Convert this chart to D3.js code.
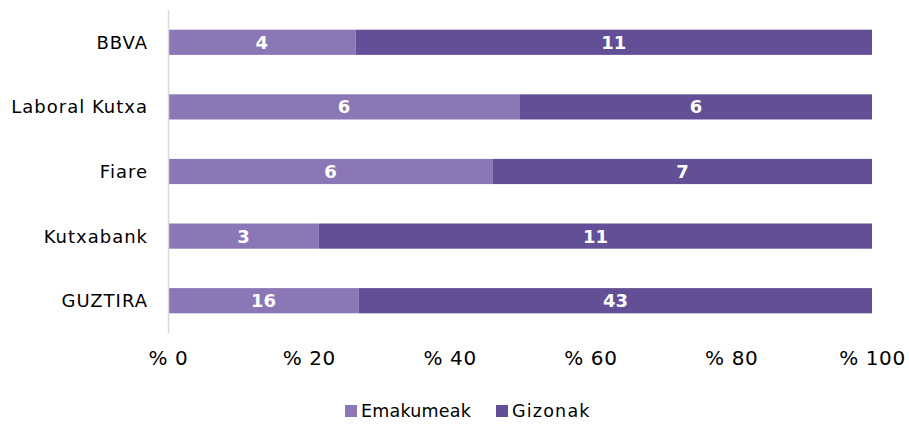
<!DOCTYPE html>
<html>
<head>
<meta charset="utf-8">
<script src="https://cdn.jsdelivr.net/npm/d3@7"></script>
<style>
  body { margin: 0; background: #fff; }
  svg { font-family: "DejaVu Sans", sans-serif; }
</style>
</head>
<body>
<div id="chart"></div>
<script>
// chart data
const categories = ['BBVA', 'Laboral Kutxa', 'Fiare', 'Kutxabank', 'GUZTIRA']
const seriesNames = ['Emakumeak', 'Gizonak']
const emakumeak = [4, 6, 6, 3, 16]
const gizonak = [11, 6, 7, 11, 43]
const xTicks = [0, 20, 40, 60, 80, 100]

// outer svg dimensions
const width = 909
const height = 426
const padding = { top: 10, right: 37, bottom: 93, left: 168 }
const plotW = width - padding.left - padding.right
const plotH = height - padding.top - padding.bottom

const colors = ['#8b77b5', '#634f95']

const xScale = d3.scaleLinear().domain([0, 100]).range([0, plotW])
const yScale = d3.scaleBand().domain(categories).range([0, plotH]).paddingInner(0.61).paddingOuter(0.305)

const svg = d3.select('#chart').append('svg').attr('width', width).attr('height', height)
const g = svg.append('g').attr('transform', `translate(${padding.left} ${padding.top})`)

// build stacked percentages
const rows = categories.map((c, i) => ({ cat: c, Emakumeak: emakumeak[i], Gizonak: gizonak[i] }))
const stack = d3.stack().keys(seriesNames).offset(d3.stackOffsetExpand)
const layers = stack(rows)

layers.forEach((layer, li) => {
  const lg = g.append('g')
  lg.selectAll('rect').data(layer).enter().append('rect')
    .attr('x', d => xScale(d[0] * 100))
    .attr('width', d => xScale(d[1] * 100) - xScale(d[0] * 100))
    .attr('y', d => yScale(d.data.cat))
    .attr('height', yScale.bandwidth())
    .attr('fill', colors[li])
  lg.selectAll('text').data(layer).enter().append('text')
    .attr('x', d => xScale((d[0] + d[1]) * 50))
    .attr('y', d => yScale(d.data.cat) + yScale.bandwidth() / 2)
    .attr('dy', '0.36em')
    .attr('text-anchor', 'middle')
    .attr('fill', '#fff')
    .attr('font-weight', 'bold')
    .attr('font-size', 18)
    .text(d => d.data[layer.key])
})

// y axis line + labels
g.append('line').attr('x1', 0.5).attr('x2', 0.5).attr('y1', 0).attr('y2', plotH)
  .attr('stroke', '#d9d9d9').attr('stroke-width', 1.5)
g.selectAll('.cat').data(categories).enter().append('text')
  .attr('class', 'cat')
  .attr('x', -20)
  .attr('y', d => yScale(d) + yScale.bandwidth() / 2)
  .attr('dy', '0.36em')
  .attr('text-anchor', 'end')
  .attr('font-size', 18)
  .attr('letter-spacing', 1)
  .attr('fill', '#000')
  .text(d => d)

// x axis labels
const xAxis = d3.axisBottom(xScale).tickValues(xTicks).tickSize(0).tickPadding(18)
  .tickFormat(d => `% ${d}`)
const xg = g.append('g').attr('transform', `translate(0 ${plotH})`).call(xAxis)
xg.select('.domain').remove()
xg.selectAll('text').attr('font-size', 20).attr('letter-spacing', 0.6)
  .attr('fill', '#000').attr('font-family', 'DejaVu Sans, sans-serif')

// legend
const legend = svg.append('g').attr('transform', 'translate(345 411)')
const items = [{ name: seriesNames[0], x: 0 }, { name: seriesNames[1], x: 151 }]
items.forEach((it, i) => {
  legend.append('rect').attr('x', it.x).attr('y', -6).attr('width', 12).attr('height', 12).attr('fill', colors[i])
  legend.append('text').attr('x', it.x + 16).attr('y', 0).attr('dy', '0.36em')
    .attr('font-size', 17.5).attr('letter-spacing', i === 1 ? 1.2 : 0.2)
    .attr('fill', '#000').text(it.name)
})
</script>
</body>
</html>
